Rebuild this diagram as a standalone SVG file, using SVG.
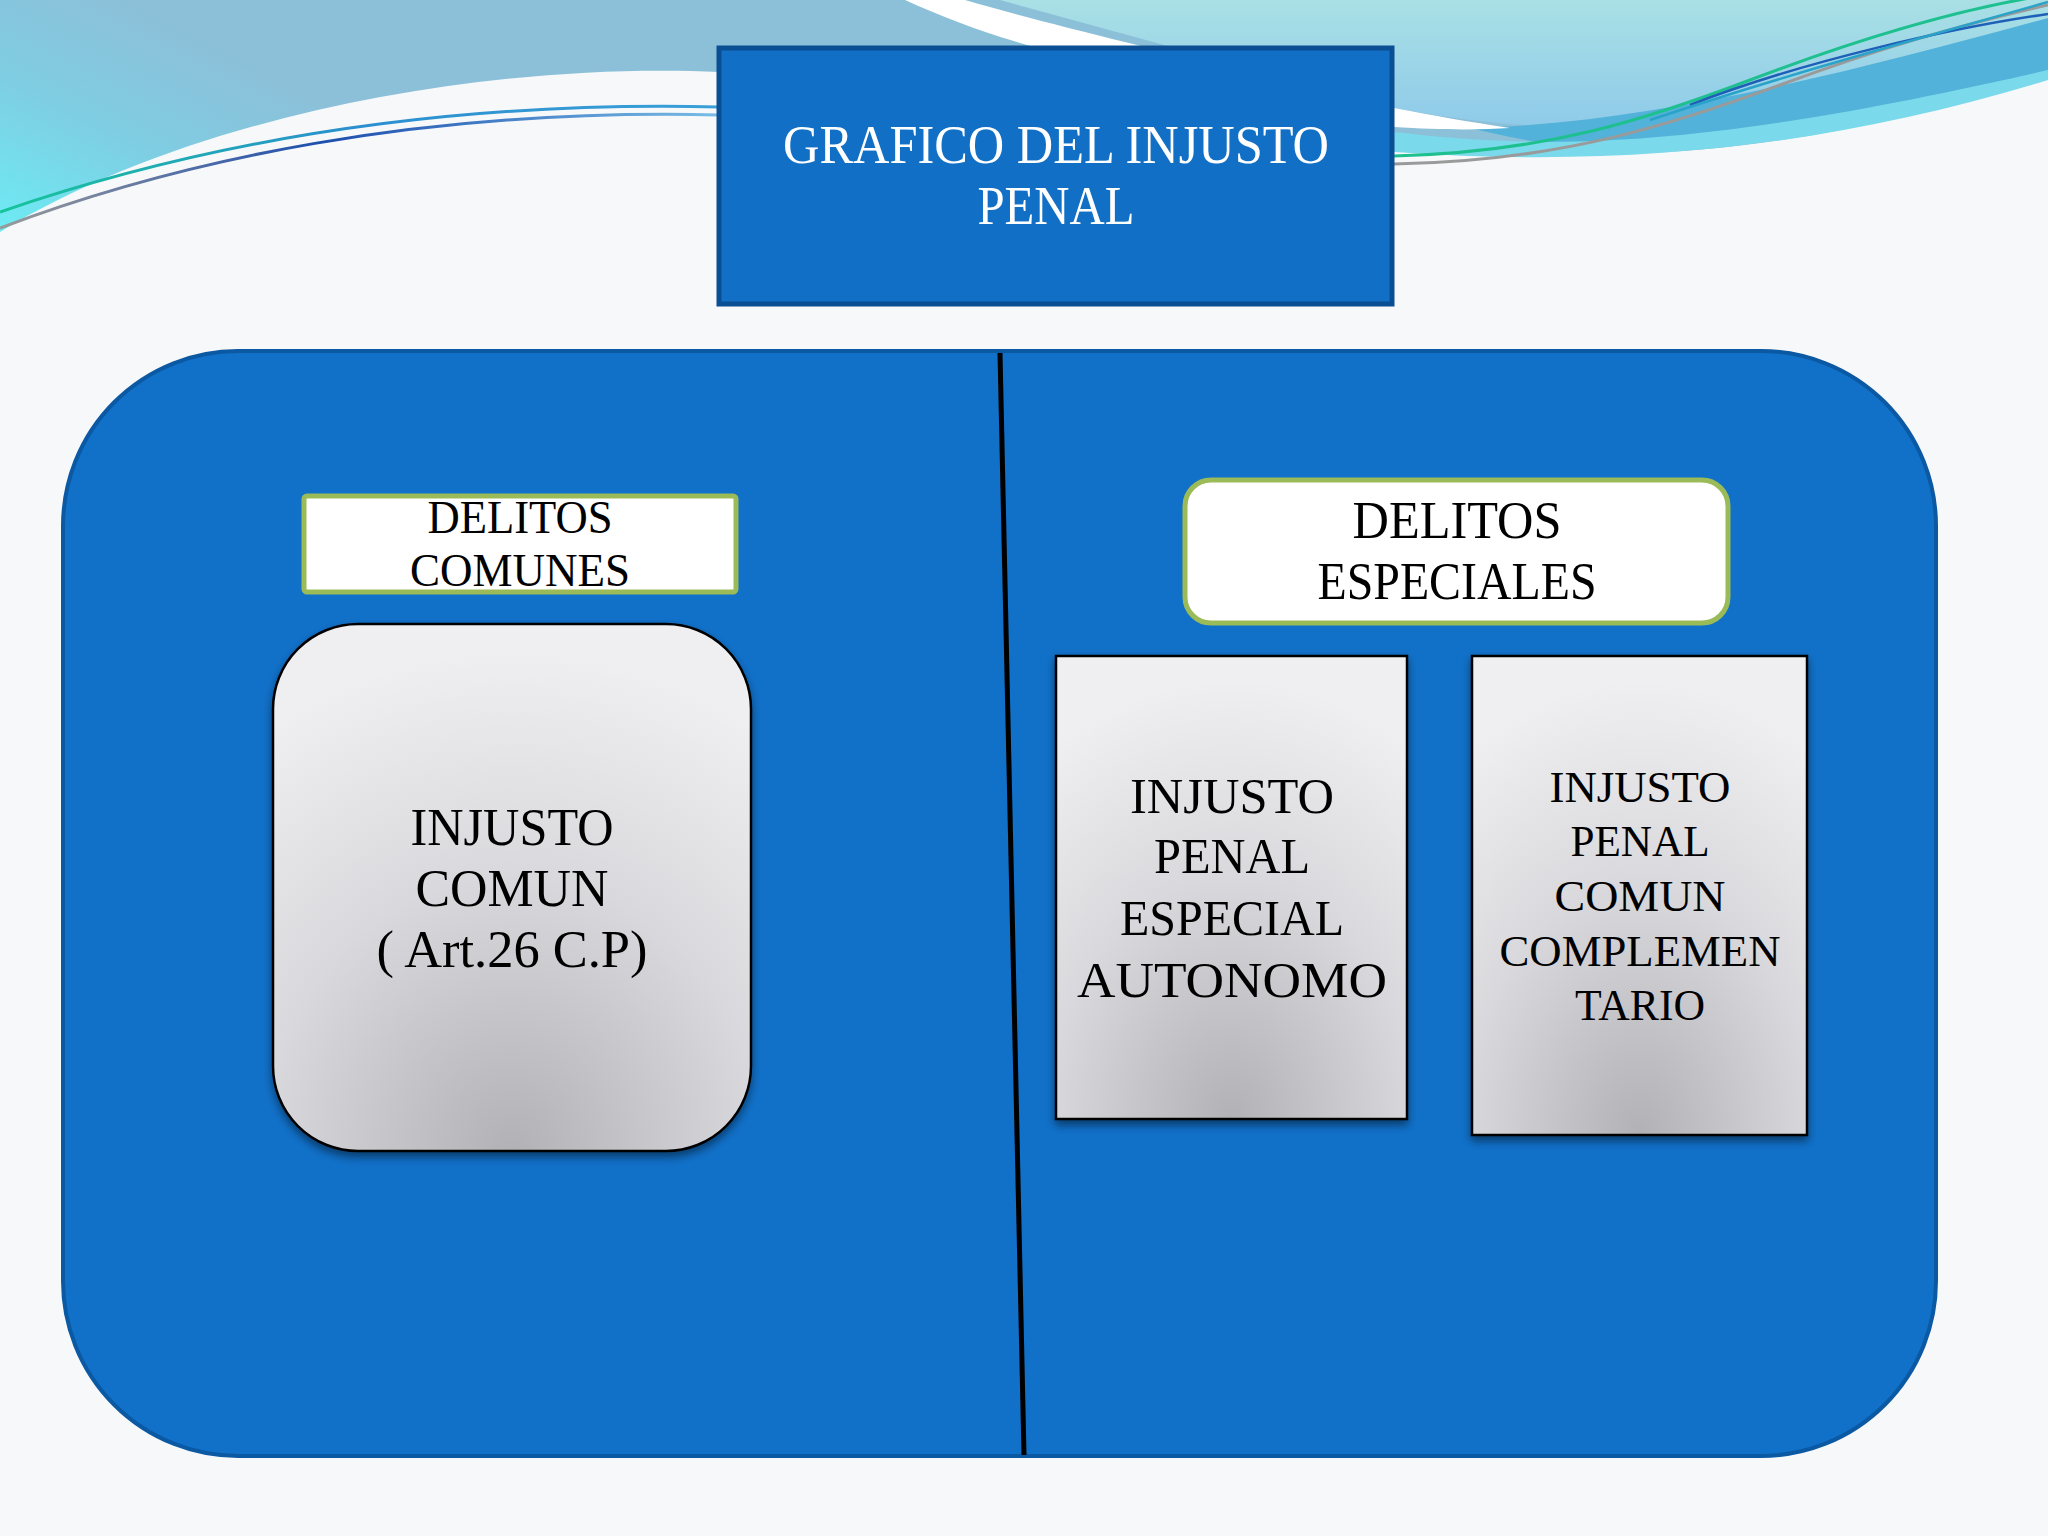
<svg xmlns="http://www.w3.org/2000/svg" width="2048" height="1536" viewBox="0 0 2048 1536">
  <defs>
    <linearGradient id="bandLeft" gradientUnits="userSpaceOnUse" x1="0" y1="235" x2="120" y2="0">
      <stop offset="0" stop-color="#6cecf5"/>
      <stop offset="0.55" stop-color="#7fcde2"/>
      <stop offset="1" stop-color="#8cc0d9"/>
    </linearGradient>
    <linearGradient id="bandRight" gradientUnits="userSpaceOnUse" x1="0" y1="0" x2="0" y2="150">
      <stop offset="0" stop-color="#a9e0e5"/>
      <stop offset="1" stop-color="#8ac6ea"/>
    </linearGradient>
    <linearGradient id="lineA" gradientUnits="userSpaceOnUse" x1="0" y1="0" x2="720" y2="0">
      <stop offset="0" stop-color="#16c49a"/>
      <stop offset="0.5" stop-color="#2a8fcf"/>
      <stop offset="1" stop-color="#3aa0d8"/>
    </linearGradient>
    <linearGradient id="lineB" gradientUnits="userSpaceOnUse" x1="0" y1="0" x2="720" y2="0">
      <stop offset="0" stop-color="#9a9a9a"/>
      <stop offset="0.45" stop-color="#1d4fae"/>
      <stop offset="1" stop-color="#78bde6"/>
    </linearGradient>
    <radialGradient id="grey" cx="0.5" cy="1.0" r="0.95">
      <stop offset="0" stop-color="#b2b1b6"/>
      <stop offset="0.55" stop-color="#d9d8dc"/>
      <stop offset="1" stop-color="#efeff1"/>
    </radialGradient>
    <filter id="shadow" x="-10%" y="-10%" width="120%" height="125%">
      <feDropShadow dx="0" dy="5" stdDeviation="4" flood-color="#000" flood-opacity="0.45"/>
    </filter>
  </defs>
  <style>
    .serif { font-family: "Liberation Serif", "DejaVu Serif", serif; text-anchor: middle; }
    .title { fill: #ffffff; font-size: 54px; }
    .lbl { fill: #000000; }
    .green { fill: #ffffff; stroke: #9bbb59; stroke-width: 5; }
    .greybox { fill: url(#grey); stroke: #000000; stroke-width: 2.5; filter: url(#shadow); }
  </style>

  <!-- background -->
  <rect x="0" y="0" width="2048" height="1536" fill="#f7f8fa"/>
  <path d="M0,0 H2048 V77 C1900,125 1720,158 1600,152 C1500,148 1430,142 1394,140 L719,72 C500,62 200,110 0,232 Z" fill="url(#bandLeft)"/>
  <path d="M1000,0 H2048 V20 C1900,70 1750,118 1620,126 C1520,130 1450,118 1394,108 L1000,0 Z" fill="url(#bandRight)"/>
  <path d="M1470,128 C1650,124 1850,72 2048,18 V77 C1850,135 1700,152 1560,145 C1520,140 1495,134 1470,128 Z" fill="#52b2d9"/>
  <path d="M1394,132 C1550,150 1700,150 2048,70 V80 C1850,140 1650,170 1394,152 Z" fill="#7ad9ea"/>
  <path d="M905,0 C960,25 1010,42 1100,65 C1250,95 1330,115 1394,127 C1440,130 1480,130 1510,128 C1470,122 1430,115 1394,108 C1200,60 1050,25 965,0 Z" fill="#ffffff"/>
  <path d="M0,212 C180,150 420,100 719,107" fill="none" stroke="url(#lineA)" stroke-width="3"/>
  <path d="M0,228 C180,160 420,108 719,115" fill="none" stroke="url(#lineB)" stroke-width="3"/>
  <path d="M1394,156 C1550,152 1650,118 1750,80 C1850,42 1950,10 2048,-5" fill="none" stroke="#1fc08f" stroke-width="3"/>
  <path d="M1394,164 C1560,162 1680,122 1780,85 C1880,48 1960,25 2048,5" fill="none" stroke="#9a9a9a" stroke-width="3"/>
  <path d="M1690,105 C1800,62 1950,28 2048,14" fill="none" stroke="#1e5fb8" stroke-width="2.5"/>
  <path d="M1650,120 C1800,70 1950,30 2048,2" fill="none" stroke="#2aa3c8" stroke-width="2.5"/>

  <!-- title -->
  <g id="title">
    <rect x="719" y="48" width="673" height="256" fill="#1170c6" stroke="#0a4f93" stroke-width="5"/>
    <text class="serif title" x="1056" y="163" textLength="546" lengthAdjust="spacingAndGlyphs">GRAFICO DEL INJUSTO</text>
    <text class="serif title" x="1056" y="224" textLength="157" lengthAdjust="spacingAndGlyphs">PENAL</text>
  </g>

  <!-- container -->
  <g id="container">
    <rect x="63" y="351" width="1873" height="1105" rx="175" ry="175" fill="#1170c8" stroke="#0b58a3" stroke-width="4"/>
  </g>

  <g id="connectors">
    <line x1="1000" y1="353" x2="1024" y2="1455" stroke="#000000" stroke-width="5"/>
  </g>

  <g id="delitos-comunes">
    <rect class="green" x="304" y="496" width="432" height="96" rx="3"/>
    <text class="serif lbl" font-size="46" x="520" y="533" textLength="185" lengthAdjust="spacingAndGlyphs">DELITOS</text>
    <text class="serif lbl" font-size="46" x="520" y="586" textLength="220" lengthAdjust="spacingAndGlyphs">COMUNES</text>
  </g>

  <g id="delitos-especiales">
    <rect class="green" x="1185" y="480" width="543" height="143" rx="26" stroke-width="6"/>
    <text class="serif lbl" font-size="52" x="1457" y="538" textLength="209" lengthAdjust="spacingAndGlyphs">DELITOS</text>
    <text class="serif lbl" font-size="52" x="1457" y="599" textLength="279" lengthAdjust="spacingAndGlyphs">ESPECIALES</text>
  </g>

  <g id="injusto-comun">
    <rect class="greybox" x="273" y="624" width="478" height="527" rx="85" ry="85"/>
    <text class="serif lbl" font-size="52" x="512" y="845" textLength="203" lengthAdjust="spacingAndGlyphs">INJUSTO</text>
    <text class="serif lbl" font-size="52" x="512" y="906" textLength="193" lengthAdjust="spacingAndGlyphs">COMUN</text>
    <text class="serif lbl" font-size="52" x="512" y="967" textLength="271" lengthAdjust="spacingAndGlyphs">( Art.26 C.P)</text>
  </g>

  <g id="injusto-especial-autonomo">
    <rect class="greybox" x="1056" y="656" width="351" height="463"/>
    <text class="serif lbl" font-size="50" x="1232" y="813" textLength="204" lengthAdjust="spacingAndGlyphs">INJUSTO</text>
    <text class="serif lbl" font-size="50" x="1232" y="873" textLength="156" lengthAdjust="spacingAndGlyphs">PENAL</text>
    <text class="serif lbl" font-size="50" x="1232" y="935" textLength="224" lengthAdjust="spacingAndGlyphs">ESPECIAL</text>
    <text class="serif lbl" font-size="50" x="1232" y="997" textLength="310" lengthAdjust="spacingAndGlyphs">AUTONOMO</text>
  </g>

  <g id="injusto-comun-complementario">
    <rect class="greybox" x="1472" y="656" width="335" height="479"/>
    <text class="serif lbl" font-size="45" x="1640" y="802" textLength="181" lengthAdjust="spacingAndGlyphs">INJUSTO</text>
    <text class="serif lbl" font-size="45" x="1640" y="856" textLength="139" lengthAdjust="spacingAndGlyphs">PENAL</text>
    <text class="serif lbl" font-size="45" x="1640" y="911" textLength="171" lengthAdjust="spacingAndGlyphs">COMUN</text>
    <text class="serif lbl" font-size="45" x="1640" y="966" textLength="281" lengthAdjust="spacingAndGlyphs">COMPLEMEN</text>
    <text class="serif lbl" font-size="45" x="1640" y="1020" textLength="130" lengthAdjust="spacingAndGlyphs">TARIO</text>
  </g>
</svg>
